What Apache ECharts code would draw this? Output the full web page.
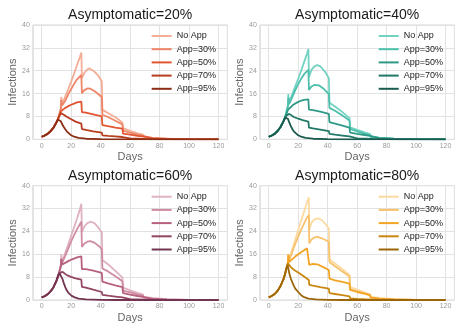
<!DOCTYPE html>
<html>
<head>
<meta charset="utf-8">
<script src="https://cdn.jsdelivr.net/npm/echarts@6/dist/echarts.min.js"></script>
<style>
html,body{margin:0;padding:0;background:#fff}
#main{width:463px;height:331px}
</style>
</head>
<body>
<div id="main"></div>
<script>
let names=['No App','App=30%','App=50%','App=70%','App=95%']
let titles=['Asymptomatic=20%','Asymptomatic=40%','Asymptomatic=60%','Asymptomatic=80%']
let xTicks=[0,20,40,60,80,100,120]
let yTicks=[0,8,16,24,32,40]

// 20%
let early20=[[0,0.9],[2,1.3],[4,1.9],[6,2.8],[8,4.1],[10,5.9]]
let noApp20=early20.concat([[11,7.2],[12,9],[13,11],[13.3,14.8],[13.8,12.2],[16,15],[18,17.5],[20,20.2],[22,23],[24,26],[26,29],[26.9,30.4],[27.3,21.4],[29,23.3],[31,24.5],[32.5,24.8],[35,24],[38,22.5],[40.8,20.3],[41.2,10.3],[44,9.5],[48,8.3],[52,7],[54.8,5.8],[55.2,3.9],[60,3],[65,2.1],[68.8,1.6],[69.2,0.9],[75,0.6],[80,0.4],[90,0.15],[100,0.05],[120,0]])
let app30_20=early20.concat([[11,7.2],[12,8.8],[13,10.6],[13.3,13.8],[13.8,11.8],[16,13.5],[18,15.7],[20,17.6],[22,19.4],[24,21],[26.9,22.5],[27.3,16.1],[29,17.2],[31,17.8],[33,17.7],[36,16.8],[40.8,14.8],[41.2,8.6],[45,7.8],[50,6.5],[54.8,5.2],[55.2,3],[60,2.3],[65,1.6],[68.8,1.2],[69.2,0.6],[75,0.4],[85,0.15],[100,0.03],[120,0]])
let app50_20=early20.concat([[11,7],[12,8.3],[13,9.8],[14,10.3],[16,11],[18,11.6],[20,12.1],[22,12.5],[24,12.9],[26.9,13.2],[27.3,9.5],[30,9.3],[35,8.7],[40.8,8],[41.2,5],[45,4.6],[50,4.1],[54.8,3.7],[55.2,2],[60,1.6],[65,1.2],[68.8,1],[69.2,0.5],[75,0.3],[85,0.1],[100,0],[120,0]])
let app70_20=early20.concat([[11,7],[12,8.2],[13,9.2],[14,9.1],[15,8.6],[17,7.9],[20,7],[23,6.2],[26.9,5.5],[27.3,3.6],[30,3.3],[35,2.8],[40.8,2.3],[41.2,1.4],[45,1.2],[50,1],[54.8,0.8],[55.2,0.4],[60,0.3],[70,0.1],[80,0],[120,0]])
let app95_20=early20.concat([[11,6.9],[12,7],[13,6.3],[14,5.2],[15,4.3],[16,3.5],[17,2.8],[18,2.2],[20,1.4],[22,0.9],[25,0.5],[30,0.2],[40,0.05],[50,0],[120,0]])

// 40%
let early40=[[0,0.9],[2,1.3],[4,1.9],[6,2.9],[8,4.3],[10,6.3]]
let noApp40=early40.concat([[11,7.8],[12,9.7],[13,12],[13.3,15.8],[13.8,12.8],[16,15.8],[18,18.5],[20,21.2],[22,24],[24,27],[26,30],[26.9,31.6],[27.3,21.8],[29,24.3],[31,25.5],[33,26],[35,25.5],[38,23.8],[40.8,21.4],[41.2,12.8],[45,11.5],[50,9.5],[54.8,7.4],[55.2,4.2],[60,3.3],[65,2.4],[68.8,1.8],[69.2,1],[75,0.6],[85,0.25],[100,0.05],[120,0]])
let app30_40=early40.concat([[11,7.6],[12,9.3],[13,11.3],[13.3,14.5],[13.8,12.3],[16,14.8],[18,17.2],[20,19.3],[22,21.2],[24,22.8],[26.9,24.3],[27.3,17.3],[29,18.5],[31,19],[34,18.9],[37,17.8],[40.8,15.8],[41.2,11],[45,10],[50,8.3],[54.8,6.6],[55.2,3.6],[60,2.8],[65,2],[68.8,1.5],[69.2,0.8],[75,0.5],[85,0.2],[100,0.03],[120,0]])
let app50_40=early40.concat([[11,7.4],[12,8.8],[13,10.3],[14,10.9],[16,11.8],[18,12.5],[20,13.1],[22,13.5],[24,13.8],[26.9,14],[27.3,10.4],[30,10.2],[35,9.7],[40.8,8.9],[41.2,6],[45,5.5],[50,4.8],[54.8,4.1],[55.2,2.3],[60,1.9],[65,1.5],[68.8,1.2],[69.2,0.6],[75,0.4],[85,0.15],[100,0],[120,0]])
let app70_40=early40.concat([[11,7.3],[12,8.3],[13,8.8],[14,8.9],[15,8.5],[17,7.8],[20,7.2],[23,6.7],[26.9,6.2],[27.3,4.1],[30,3.8],[35,3.4],[40.8,2.9],[41.2,1.9],[45,1.6],[50,1.3],[54.8,1],[55.2,0.5],[60,0.35],[70,0.15],[80,0.05],[90,0],[120,0]])
let app95_40=early40.concat([[11,7.6],[12,7.9],[13,7.2],[14,5.8],[15,4.6],[16,3.6],[17,2.8],[18,2.2],[20,1.4],[22,0.9],[25,0.5],[30,0.2],[40,0.05],[50,0],[120,0]])

// 60%
let early60=[[0,0.9],[2,1.3],[4,2],[6,3],[8,4.5],[10,6.7]]
let noApp60=early60.concat([[11,8.3],[12,10.3],[13,12.5],[13.3,16],[13.8,13.3],[16,16.5],[18,19.5],[20,22.5],[22,25.5],[24,28.5],[26,31.8],[26.9,33.7],[27.3,23.8],[29,25.8],[31,26.9],[33.5,27.4],[36,26.8],[38.5,25.3],[40.8,23.6],[41.2,14],[45,12.5],[50,10.2],[54.8,7.8],[55.2,4.3],[60,3.4],[65,2.5],[68.8,1.9],[69.2,1.1],[75,0.7],[85,0.3],[98,0.05],[120,0]])
let app30_60=early60.concat([[11,8.1],[12,10],[13,12],[13.3,14.5],[13.8,12.8],[16,15.5],[18,18],[20,20.5],[22,22.7],[24,24.8],[26.9,27.4],[27.3,18.6],[29,19.8],[31,20.4],[33,20.6],[36,20],[38.5,19],[40.8,17.8],[41.2,11],[45,10],[50,8.3],[54.8,6.6],[55.2,3.3],[60,2.7],[65,2],[68.8,1.5],[69.2,0.8],[75,0.5],[85,0.2],[100,0.03],[120,0]])
let app50_60=early60.concat([[11,8],[12,9.8],[13,11.8],[13.3,14.3],[13.8,12.3],[16,13],[18,13.6],[20,14.1],[22,14.5],[24,14.9],[26.9,15.3],[27.3,10.8],[30,10.8],[35,10.3],[40.8,9.5],[41.2,6.4],[45,5.8],[50,5.1],[54.8,4.5],[55.2,2.4],[60,1.9],[65,1.4],[68.8,1.1],[69.2,0.5],[75,0.35],[85,0.1],[100,0],[120,0]])
let app70_60=early60.concat([[11,8],[12,9.3],[13,9.9],[14,9.9],[15,9.4],[17,8.7],[20,8.1],[23,7.6],[26.9,7.1],[27.3,4.6],[30,4.3],[35,3.6],[40.8,2.8],[41.2,1.8],[45,1.5],[50,1.2],[54.8,0.9],[55.2,0.45],[60,0.3],[70,0.1],[80,0],[120,0]])
let app95_60=early60.concat([[11,8.5],[12,9.5],[13,9.3],[14,7.5],[15,5.9],[16,4.5],[17,3.4],[18,2.6],[20,1.6],[22,1],[25,0.5],[30,0.2],[40,0.05],[50,0],[120,0]])

// 80%
let early80=[[0,0.9],[2,1.4],[4,2.1],[6,3.2],[8,4.9],[10,7.3]]
let noApp80=early80.concat([[11,9],[12,11.2],[13,13.6],[13.3,16.2],[13.8,14.2],[16,17.8],[18,21.2],[20,24.5],[22,27.8],[24,31],[26,34.2],[27.2,35.9],[27.5,24.8],[29,27],[31,28.2],[33.5,28.6],[36,28],[38.5,26.6],[40.8,25],[41.2,14.3],[45,12.8],[50,10.8],[54.8,8.8],[55.2,4.5],[60,3.6],[65,2.7],[68.8,2],[69.2,1.1],[75,0.7],[85,0.3],[98,0.05],[120,0]])
let app30_80=early80.concat([[11,8.9],[12,11],[13,13.3],[13.3,15.8],[13.8,13.8],[16,16.8],[18,19.6],[20,22.2],[22,24.6],[24,26.8],[26,28.8],[27.2,29.7],[27.5,19.8],[29,21.2],[31,21.9],[33,22.1],[36,21.6],[38.5,21],[40.8,20.3],[41.2,13.3],[45,11.8],[50,10],[54.8,8.2],[55.2,3.8],[60,3],[65,2.2],[68.8,1.6],[69.2,0.9],[75,0.5],[85,0.2],[100,0.03],[120,0]])
let app50_80=early80.concat([[11,8.9],[12,10.8],[13,13],[13.3,15.8],[13.8,13.3],[16,14.3],[18,15.2],[20,16],[22,16.7],[24,17.4],[26,18.1],[27.2,18.6],[27.5,12.3],[30,12.6],[33,12.5],[37,11.5],[40.8,10.5],[41.2,7.5],[45,6.9],[50,6.3],[54.8,5.7],[55.2,3.5],[60,2.8],[65,2.2],[68.8,1.7],[69.2,0.8],[75,0.5],[85,0.2],[100,0],[120,0]])
let app70_80=early80.concat([[11,8.8],[12,10.9],[13,12.8],[13.5,13.2],[14,12.2],[15,11.5],[17,10.6],[20,9.6],[23,8.6],[27.2,7],[27.5,5.3],[30,5],[35,4.5],[40.8,4],[41.2,2.4],[45,2.1],[50,1.7],[54.8,1.3],[55.2,0.6],[60,0.4],[70,0.15],[80,0.05],[90,0],[120,0]])
let app95_80=early80.concat([[11,9],[12,11.2],[12.8,12.3],[13.5,10.5],[14,9.2],[15,7.5],[16,6.2],[17,5],[18,4],[20,2.8],[22,1.7],[24,1],[27,0.5],[32,0.2],[40,0.05],[50,0],[120,0]])

let colors20=['#f4ad96','#ee8566','#e15631','#b83d1d','#8a2e15']
let colors40=['#72d3c2','#4ebfab','#2f9a87','#207868','#1b5a4e']
let colors60=['#dfb2c1','#cf8ba2','#b8617f','#934563','#733450']
let colors80=['#fbd99f','#f8c16c','#f2a425','#c98711','#9b6609']

let font='"Liberation Sans", Arial, sans-serif'
let panels=[
  {title:titles[0],colors:colors20,data:[noApp20,app30_20,app50_20,app70_20,app95_20],left:32.85,top:25},
  {title:titles[1],colors:colors40,data:[noApp40,app30_40,app50_40,app70_40,app95_40],left:259.9,top:25},
  {title:titles[2],colors:colors60,data:[noApp60,app30_60,app50_60,app70_60,app95_60],left:32.85,top:185.7},
  {title:titles[3],colors:colors80,data:[noApp80,app30_80,app50_80,app70_80,app95_80],left:259.9,top:185.7}
]
let plotW=194.5, plotH=114.3

let option={
  animation:false,
  backgroundColor:'#fff',
  textStyle:{fontFamily:font},
  title:[],grid:[],xAxis:[],yAxis:[],legend:[],series:[]
}

panels.forEach((p,i)=>{
  option.title.push({
    text:p.title,left:p.left+plotW/2,top:p.top-17,textAlign:'center',padding:0,
    textStyle:{fontSize:14,fontWeight:'normal',color:'#1a1a1a',fontFamily:font}
  })
  option.grid.push({left:p.left,top:p.top,width:plotW,height:plotH,show:true,borderColor:'#d6d6d6',borderWidth:1,backgroundColor:'#fff'})
  option.xAxis.push({
    gridIndex:i,type:'value',min:-6,max:126,splitNumber:6,
    name:'Days',nameLocation:'middle',nameGap:12.5,
    nameTextStyle:{fontSize:11,color:'#666',fontFamily:font},
    axisLine:{show:false},axisTick:{show:false},
    axisLabel:{fontSize:7,color:'#999',margin:3,fontFamily:font,
      formatter:v=>xTicks.indexOf(v)>=0?String(v):''},
    splitLine:{show:true,lineStyle:{color:'#e2e2e2',width:1}}
  })
  option.yAxis.push({
    gridIndex:i,type:'value',min:yTicks[0],max:yTicks[yTicks.length-1],interval:8,
    name:'Infections',nameLocation:'middle',nameGap:13.5,
    nameTextStyle:{fontSize:11,color:'#666',fontFamily:font},
    axisLine:{show:false},axisTick:{show:false},
    axisLabel:{fontSize:7,color:'#999',margin:3,fontFamily:font},
    splitLine:{show:true,lineStyle:{color:'#e2e2e2',width:1}}
  })
  option.legend.push({
    orient:'vertical',left:p.left+118.8,top:p.top+6.5,
    icon:'rect',itemWidth:20,itemHeight:2,itemGap:4.2,padding:0,
    textStyle:{fontSize:9,color:'#222',fontFamily:font},
    data:names.map(n=>i+'|'+n),
    formatter:name=>name.split('|')[1]
  })
  p.data.forEach((d,k)=>{
    option.series.push({
      name:i+'|'+names[k],type:'line',xAxisIndex:i,yAxisIndex:i,
      data:d,symbol:'none',showSymbol:false,
      lineStyle:{color:p.colors[k],width:1.8},
      itemStyle:{color:p.colors[k]},
      z:2+k
    })
  })
})

let myChart=echarts.init(document.getElementById('main'))
myChart.setOption(option)
</script>
</body>
</html>
